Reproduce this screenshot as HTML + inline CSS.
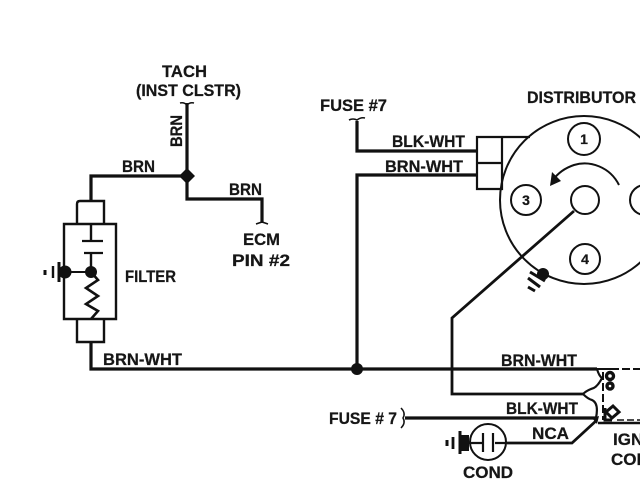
<!DOCTYPE html>
<html>
<head>
<meta charset="utf-8">
<style>
html,body{margin:0;padding:0;background:#fff;width:640px;height:480px;overflow:hidden}
svg{display:block}
text{font-family:"Liberation Sans",sans-serif;font-weight:bold;fill:#161616;stroke:#161616;stroke-width:.25px;font-size:16.5px}
</style>
</head>
<body>
<svg width="640" height="480" viewBox="0 0 640 480" xmlns="http://www.w3.org/2000/svg">
<rect width="640" height="480" fill="#fff"/>
<g fill="none" stroke="#111" stroke-width="3.2">
  <!-- tach / brn -->
  <path d="M187 103V199H262V223"/>
  <path d="M91 200V176H187"/>
  <path d="M180 103q4 -1 7 2q3 -3 7 -2" stroke-width="1.6"/>
  <path d="M256 224q3 -1 6 -2q3 1 6 2" stroke-width="1.6"/>
  <!-- filter -->
  <path d="M77 224V204q0 -3 3 -3H104V224" stroke-width="2.4"/>
  <path d="M64 224H116V319H64Z" stroke-width="2.4"/>
  <path d="M77 320V342H104V320" stroke-width="2.4"/>
  <path d="M91 224V241M91 253V272" stroke-width="2.4"/>
  <path d="M82 241H103M84 253H103" stroke-width="2.2"/>
  <path d="M63 272H91" stroke-width="2"/>
  <path d="M91 272L98 280L86 288L98 296L86 304L98 311L91 319" stroke-width="2.6"/>
  <path d="M91 342V369H597"/>
  <path d="M59 262V282" stroke-width="3"/>
  <path d="M53 266V278" stroke-width="2.4"/>
  <path d="M45 270V275" stroke-width="3"/>
  <!-- fuse 7 -->
  <path d="M357 121V151H477"/>
  <path d="M349 120q4 -2 8 0q4 -3 8 -2" stroke-width="1.6"/>
  <path d="M477 175H357V369"/>
  <!-- connector -->
  <path d="M477 137H502V189H477ZM477 163H502M502 137H530" stroke-width="2.2"/>
  <!-- distributor -->
  <circle cx="584" cy="200" r="84" stroke-width="2"/>
  <circle cx="584" cy="139" r="16" stroke-width="2" fill="#fff"/>
  <circle cx="526" cy="200" r="15" stroke-width="2" fill="#fff"/>
  <circle cx="585" cy="259" r="15" stroke-width="2" fill="#fff"/>
  <circle cx="645" cy="200" r="15" stroke-width="2" fill="#fff"/>
  <circle cx="585" cy="200" r="14" stroke-width="2" fill="#fff"/>
  <path d="M619 185C610 167 590 160 574 165C565 168 558 173 553 180" stroke-width="2"/>
  <path d="M574 211L452 318V394H583" stroke-width="2.8"/>
  <path d="M530 272L545 281M528 278L540 287M528 287L535 291" stroke-width="3"/>
  <!-- ign coil -->
  <path d="M597 369Q599 376 602 378Q597 388 591 389Q586 391 583 394Q588 399 592 400Q599 403 596 418" stroke-width="2.2"/>
  <path d="M597 369H640" stroke-width="2" stroke-dasharray="22 3 8 3 8 3"/>
  <path d="M603 372V420" stroke-width="2" stroke-dasharray="8 3"/>
  <path d="M598 423H640" stroke-width="2.4"/>
  <path d="M617 420H640" stroke-width="1.6" stroke-dasharray="7 3"/>
  <circle cx="610" cy="376" r="3.5" stroke-width="3.4"/>
  <circle cx="610" cy="386" r="3" stroke-width="3.4"/>
  <path d="M605 408V420H612M613 406L619 412L612 418L606 412Z" stroke-width="3"/>
  <!-- fuse 7 lower -->
  <path d="M405 418H596"/>
  <path d="M401 408q5 5 2 10q3 5 -2 10" stroke-width="1.5"/>
  <!-- cond -->
  <circle cx="488" cy="442" r="18" stroke-width="2"/>
  <path d="M507 443H572L597 420" stroke-width="2.8"/>
  <path d="M467 443H482M495 443H507" stroke-width="2.2"/>
  <path d="M483 433V452M493 433V452" stroke-width="2.2"/>
  <path d="M460 431V454" stroke-width="3"/>
  <path d="M453 437V449" stroke-width="2.8"/>
  <path d="M447 440V446" stroke-width="3"/>
</g>
<g fill="#111" stroke="none">
  <path d="M187 168L195 176L187 184L179 176Z"/>
  <circle cx="91" cy="272" r="6"/>
  <circle cx="65" cy="272" r="6.5"/>
  <circle cx="357" cy="369" r="6"/>
  <circle cx="543" cy="274" r="6"/>
  <rect x="460" y="435" width="9" height="16"/>
  <path d="M550 186L552 172L561 181Z"/>
  <path d="M597 424L592 418L599 416Z"/>
</g>
<text x="162" y="77" textLength="45" lengthAdjust="spacingAndGlyphs">TACH</text>
<text x="136" y="96" textLength="105" lengthAdjust="spacingAndGlyphs">(INST CLSTR)</text>
<text transform="translate(182 147) rotate(-90)" textLength="32" lengthAdjust="spacingAndGlyphs">BRN</text>
<text x="122" y="172" textLength="33" lengthAdjust="spacingAndGlyphs">BRN</text>
<text x="229" y="195" textLength="33" lengthAdjust="spacingAndGlyphs">BRN</text>
<text x="243" y="245" textLength="37" lengthAdjust="spacingAndGlyphs">ECM</text>
<text x="232" y="266" textLength="58" lengthAdjust="spacingAndGlyphs">PIN #2</text>
<text x="125" y="282" textLength="51" lengthAdjust="spacingAndGlyphs">FILTER</text>
<text x="103" y="365" textLength="79" lengthAdjust="spacingAndGlyphs">BRN-WHT</text>
<text x="320" y="111" textLength="67" lengthAdjust="spacingAndGlyphs">FUSE #7</text>
<text x="392" y="147" textLength="73" lengthAdjust="spacingAndGlyphs">BLK-WHT</text>
<text x="385" y="172" textLength="78" lengthAdjust="spacingAndGlyphs">BRN-WHT</text>
<text x="527" y="103" textLength="109" lengthAdjust="spacingAndGlyphs">DISTRIBUTOR</text>
<text x="584" y="144" text-anchor="middle" style="font-size:14px">1</text>
<text x="526" y="205" text-anchor="middle" style="font-size:14px">3</text>
<text x="585" y="264" text-anchor="middle" style="font-size:14px">4</text>
<text x="501" y="366" textLength="76" lengthAdjust="spacingAndGlyphs">BRN-WHT</text>
<text x="506" y="414" textLength="72" lengthAdjust="spacingAndGlyphs">BLK-WHT</text>
<text x="329" y="424" textLength="68" lengthAdjust="spacingAndGlyphs">FUSE # 7</text>
<text x="532" y="439" textLength="37" lengthAdjust="spacingAndGlyphs">NCA</text>
<text x="463" y="478" textLength="50" lengthAdjust="spacingAndGlyphs">COND</text>
<text x="613" y="445" style="font-size:17px">IGN</text>
<text x="611" y="465" style="font-size:17px">COIL</text>
</svg>
</body>
</html>
